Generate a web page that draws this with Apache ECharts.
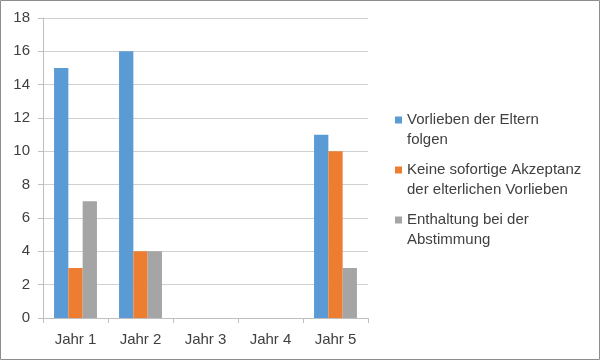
<!DOCTYPE html>
<html>
<head>
<meta charset="utf-8">
<script src="https://cdn.jsdelivr.net/npm/echarts@6/dist/echarts.min.js"></script>
<style>
html,body{margin:0;padding:0;background:#fff;}
#chart{width:600px;height:360px;}
</style>
</head>
<body>
<div id="chart"></div>
<script>
const categories = ['Jahr 1', 'Jahr 2', 'Jahr 3', 'Jahr 4', 'Jahr 5'];
const seriesNames = ['Vorlieben der Eltern folgen', 'Keine sofortige Akzeptanz der elterlichen Vorlieben', 'Enthaltung bei der Abstimmung'];
const legendLabels = ['Vorlieben der Eltern\nfolgen', 'Keine sofortige Akzeptanz\nder elterlichen Vorlieben', 'Enthaltung bei der\nAbstimmung'];
const vorlieben = [15, 16, 0, 0, 11];
const keineAkzeptanz = [3, 4, 0, 0, 10];
const enthaltung = [7, 4, 0, 0, 3];
const colors = ['#5B9BD5', '#ED7D31', '#A5A5A5'];

const chart = echarts.init(document.getElementById('chart'), null, {renderer: 'canvas'});
const font = '"Liberation Sans", Arial, sans-serif';
const iconPath = 'path://M0,0H7V7H0Z M0,27';
const legendMap = {};
seriesNames.forEach((n, i) => legendMap[n] = legendLabels[i]);

chart.setOption({
  animation: false,
  color: colors,
  textStyle: {fontFamily: font},
  grid: {left: 43, right: 232, top: 18, bottom: 42, containLabel: false},
  xAxis: {
    type: 'category',
    data: categories,
    axisLine: {show: true, lineStyle: {color: '#bfbfbf', width: 1}},
    axisTick: {show: true, alignWithLabel: false, length: 5, lineStyle: {color: '#bfbfbf'}},
    axisLabel: {color: '#404040', fontSize: 15, fontFamily: font, margin: 14}
  },
  yAxis: {
    type: 'value',
    min: 0, max: 18, interval: 2,
    axisLine: {show: true, lineStyle: {color: '#bfbfbf', width: 1}},
    axisTick: {show: true, length: 5, lineStyle: {color: '#bfbfbf'}},
    axisLabel: {color: '#404040', fontSize: 15, fontFamily: font, margin: 13},
    splitLine: {show: true, lineStyle: {color: '#d0d0d0', width: 1}}
  },
  legend: {
    orient: 'vertical',
    left: 395,
    top: 110,
    padding: 0,
    itemGap: 10,
    itemWidth: 7,
    itemHeight: 27,
    icon: iconPath,
    formatter: name => legendMap[name],
    textStyle: {color: '#404040', fontSize: 15, fontFamily: font, lineHeight: 20},
    data: seriesNames
  },
  series: [
    {name: seriesNames[0], type: 'bar', data: vorlieben, barGap: '0%', barCategoryGap: '34%'},
    {name: seriesNames[1], type: 'bar', data: keineAkzeptanz, barGap: '0%', barCategoryGap: '34%'},
    {name: seriesNames[2], type: 'bar', data: enthaltung, barGap: '0%', barCategoryGap: '34%'}
  ],
  graphic: [{
    type: 'rect', silent: true, z: -1,
    shape: {x: 0.5, y: 0.5, width: 599, height: 359},
    style: {fill: 'none', stroke: '#8c8c8c', lineWidth: 1}
  }]
});
</script>
</body>
</html>
